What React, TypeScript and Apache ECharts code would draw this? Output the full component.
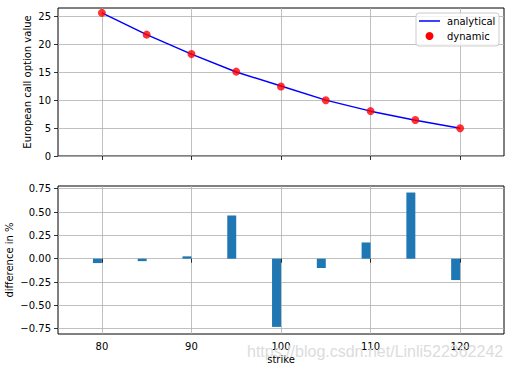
import React, { useEffect, useRef } from "react";
import * as echarts from "echarts";

const strikes = [80, 85, 90, 95, 100, 105, 110, 115, 120];
const analyticalValues = [25.57, 21.68, 18.2, 15.0, 12.49, 9.98, 8.01, 6.39, 4.96];
const dynamicValues = [25.56, 21.67, 18.2, 15.07, 12.4, 9.97, 8.02, 6.44, 4.95];
const diffPercent = [-0.047, -0.026, 0.025, 0.463, -0.731, -0.1, 0.174, 0.709, -0.229];
const xTicks = [80, 90, 100, 110, 120];
const topYTicks = [0, 5, 10, 15, 20, 25];
const bottomYTicks = [-0.75, -0.5, -0.25, 0, 0.25, 0.5, 0.75];

const FONT = "DejaVu Sans";
const GRIDLINE = { color: "#b0b0b0", width: 0.8 };

export default function App() {
  const ref = useRef<HTMLDivElement>(null);
  useEffect(() => {
    if (!ref.current) return;
    const chart = echarts.init(ref.current, null, { renderer: "svg" });
    const tick = { show: true, length: 4, lineStyle: { color: "#000", width: 0.8 } };
    const xAxisBase = (gridIndex: number, showLabels: boolean) => ({
      type: "value",
      gridIndex,
      min: 75.1,
      max: 124.9,
      axisLine: { show: false },
      axisTick: { ...tick, customValues: xTicks },
      axisLabel: {
        show: showLabels,
        customValues: xTicks,
        margin: 7,
        color: "#000",
        fontFamily: FONT,
        fontSize: 10,
      },
      splitLine: { show: true, lineStyle: GRIDLINE },
    });
    const gridBase = {
      left: 58,
      width: 446,
      height: 148,
      show: true,
      borderColor: "#000",
      borderWidth: 1,
      backgroundColor: "#fff",
      containLabel: false,
      outerBoundsMode: "none",
    };
    chart.setOption({
      animation: false,
      grid: [
        { ...gridBase, top: 8 },
        { ...gridBase, top: 186 },
      ],
      xAxis: [
        xAxisBase(0, false),
        {
          ...xAxisBase(1, true),
          name: "strike",
          nameLocation: "middle",
          nameGap: 20,
          nameMoveOverlap: false,
          nameTextStyle: { color: "#000", fontFamily: FONT, fontSize: 10 },
        },
      ],
      yAxis: [
        {
          type: "value",
          gridIndex: 0,
          min: 0,
          max: 26.43,
          axisLine: { show: false },
          axisTick: { ...tick, customValues: topYTicks },
          axisLabel: { customValues: topYTicks, margin: 7, color: "#000", fontFamily: FONT, fontSize: 10 },
          splitLine: { show: true, lineStyle: GRIDLINE },
          name: "European call option value",
          nameLocation: "middle",
          nameGap: 26,
          nameMoveOverlap: false,
          nameTextStyle: { color: "#000", fontFamily: FONT, fontSize: 10 },
        },
        {
          type: "value",
          gridIndex: 1,
          min: -0.807,
          max: 0.779,
          axisLine: { show: false },
          axisTick: { ...tick, customValues: bottomYTicks },
          axisLabel: {
            customValues: bottomYTicks,
            margin: 7,
            color: "#000",
            fontFamily: FONT,
            fontSize: 10,
            formatter: (v: number) => v.toFixed(2).replace("-", "\u2212"),
          },
          splitLine: { show: true, lineStyle: GRIDLINE },
          name: "difference in %",
          nameLocation: "middle",
          nameGap: 44,
          nameMoveOverlap: false,
          nameTextStyle: { color: "#000", fontFamily: FONT, fontSize: 10 },
        },
      ],
      series: [
        {
          name: "analytical",
          type: "line",
          xAxisIndex: 0,
          yAxisIndex: 0,
          data: strikes.map((s, i) => [s, analyticalValues[i]]),
          symbol: "none",
          lineStyle: { color: "#0000ff", width: 1.5 },
          itemStyle: { color: "#0000ff" },
          z: 3,
        },
        {
          name: "dynamic",
          type: "scatter",
          xAxisIndex: 0,
          yAxisIndex: 0,
          data: strikes.map((s, i) => [s, dynamicValues[i]]),
          symbol: "circle",
          symbolSize: 8,
          itemStyle: { color: "#ff0000" },
          z: 4,
        },
        {
          name: "difference",
          type: "custom",
          xAxisIndex: 1,
          yAxisIndex: 1,
          data: strikes.map((s, i) => [s, diffPercent[i]]),
          renderItem: (_params: any, api: any) => {
            const x = api.value(0);
            const y = api.value(1);
            const p0 = api.coord([x - 1, 0]);
            const p1 = api.coord([x, y]);
            return {
              type: "rect",
              shape: {
                x: p0[0],
                y: Math.min(p0[1], p1[1]),
                width: p1[0] - p0[0],
                height: Math.abs(p1[1] - p0[1]),
              },
              style: { fill: "#1f77b4" },
            };
          },
        },
      ],
      graphic: [
        {
          type: "rect",
          shape: { x: 416, y: 13, width: 83, height: 33, r: 3 },
          style: { fill: "rgba(255,255,255,0.8)", stroke: "#cccccc", lineWidth: 1 },
          z: 100,
        },
        {
          type: "line",
          shape: { x1: 419, y1: 21, x2: 440, y2: 21 },
          style: { stroke: "#0000ff", lineWidth: 1.5 },
          z: 101,
        },
        {
          type: "text",
          x: 447,
          y: 21,
          style: { text: "analytical", fill: "#000", font: `10px "${FONT}"`, textVerticalAlign: "middle" },
          z: 101,
        },
        {
          type: "circle",
          shape: { cx: 429.5, cy: 36, r: 4 },
          style: { fill: "#ff0000" },
          z: 101,
        },
        {
          type: "text",
          x: 447,
          y: 36,
          style: { text: "dynamic", fill: "#000", font: `10px "${FONT}"`, textVerticalAlign: "middle" },
          z: 101,
        },
        {
          type: "text",
          x: 247,
          y: 351,
          style: {
            text: "https://blog.csdn.net/Linli522362242",
            fill: "#dcdcdc",
            font: '16px "Liberation Sans"',
            textVerticalAlign: "middle",
          },
          z: 200,
        },
      ],
    });
    return () => chart.dispose();
  }, []);
  return (
    <div
      ref={ref}
      style={{ position: "fixed", left: 0, top: 0, width: 512, height: 369, background: "#fff" }}
    />
  );
}
